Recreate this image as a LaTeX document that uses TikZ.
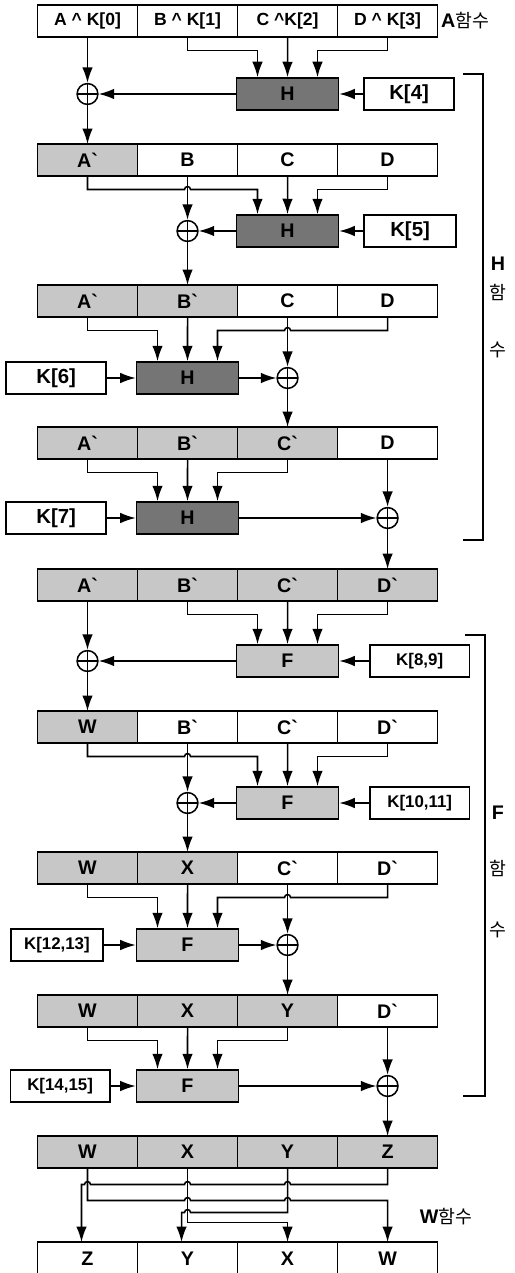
\documentclass[tikz,border=0pt]{standalone}
\usepackage{fontspec}
\setmainfont{Liberation Sans}
\newfontfamily\kr{Noto Sans CJK KR}
\usetikzlibrary{positioning, calc, arrows.meta}
\definecolor{lightshade}{gray}{0.78}
\definecolor{darkshade}{gray}{0.46}

\begin{document}
\begin{tikzpicture}[
    x=0.025cm, y=0.025cm,
    line width=1.1pt,
    font=\bfseries\fontsize{14}{16}\selectfont,
    cell/.style={
        draw,
        rectangle,
        minimum width=2.5cm,
        minimum height=0.8cm,
        inner sep=0pt,
        outer sep=0pt,
        fill=white
    },
    topcell/.style={
        cell,
        font=\bfseries\fontsize{12.5}{14}\selectfont
    },
    done/.style={
        cell,
        fill=lightshade
    },
    hfunc/.style={
        draw,
        rectangle,
        minimum width=2.55cm,
        minimum height=0.8cm,
        inner sep=0pt,
        fill=darkshade
    },
    ffunc/.style={
        hfunc,
        fill=lightshade
    },
    keybox/.style={
        draw,
        rectangle,
        minimum height=0.8cm,
        inner sep=0pt,
        fill=white,
        font=\bfseries\fontsize{14.5}{16}\selectfont
    },
    smallkey/.style={
        keybox,
        font=\bfseries\fontsize{12}{14}\selectfont
    },
    xorop/.style={
        draw,
        circle,
        minimum size=0.52cm,
        inner sep=0pt,
        fill=white,
        path picture={\draw (path picture bounding box.north) -- (path picture bounding box.south)
                            (path picture bounding box.west) -- (path picture bounding box.east);}
    },
    line/.style={
        draw,
        -{Latex[length=11pt, width=7.5pt]}
    },
    wire/.style={
        draw
    },
    sidelabel/.style={
        inner sep=1pt
    },
    hangul/.style={
        inner sep=1pt,
        font=\kr\mdseries\fontsize{13}{15}\selectfont
    }
]
\useasboundingbox (0,0) rectangle (514,-1273);
\clip (0,0) rectangle (514,-1273);

% --- Registers ---
\node[topcell] (r0a) at (87.5,-21) {A \textasciicircum{} K[0]};
\node[topcell, right=0pt of r0a] (r0b) {B \textasciicircum{} K[1]};
\node[topcell, right=0pt of r0b] (r0c) {C \textasciicircum K[2]};
\node[topcell, right=0pt of r0c] (r0d) {D \textasciicircum{} K[3]};
\node[sidelabel, right=1pt of r0d] (alabel) {A{\kr\mdseries\fontsize{13}{15}\selectfont 함수}};

\node[done] (r1a) at (87.5,-160) {A\textasciigrave};
\node[cell, right=0pt of r1a] (r1b) {B};
\node[cell, right=0pt of r1b] (r1c) {C};
\node[cell, right=0pt of r1c] (r1d) {D};

\node[done] (r2a) at (87.5,-301) {A\textasciigrave};
\node[done, right=0pt of r2a] (r2b) {B\textasciigrave};
\node[cell, right=0pt of r2b] (r2c) {C};
\node[cell, right=0pt of r2c] (r2d) {D};

\node[done] (r3a) at (87.5,-443) {A\textasciigrave};
\node[done, right=0pt of r3a] (r3b) {B\textasciigrave};
\node[done, right=0pt of r3b] (r3c) {C\textasciigrave};
\node[cell, right=0pt of r3c] (r3d) {D};

\node[done] (r4a) at (87.5,-585) {A\textasciigrave};
\node[done, right=0pt of r4a] (r4b) {B\textasciigrave};
\node[done, right=0pt of r4b] (r4c) {C\textasciigrave};
\node[done, right=0pt of r4c] (r4d) {D\textasciigrave};

\node[done] (r5a) at (87.5,-727) {W};
\node[cell, right=0pt of r5a] (r5b) {B\textasciigrave};
\node[cell, right=0pt of r5b] (r5c) {C\textasciigrave};
\node[cell, right=0pt of r5c] (r5d) {D\textasciigrave};

\node[done] (r6a) at (87.5,-868) {W};
\node[done, right=0pt of r6a] (r6b) {X};
\node[cell, right=0pt of r6b] (r6c) {C\textasciigrave};
\node[cell, right=0pt of r6c] (r6d) {D\textasciigrave};

\node[done] (r7a) at (87.5,-1011) {W};
\node[done, right=0pt of r7a] (r7b) {X};
\node[done, right=0pt of r7b] (r7c) {Y};
\node[cell, right=0pt of r7c] (r7d) {D\textasciigrave};

\node[done] (r8a) at (87.5,-1152) {W};
\node[done, right=0pt of r8a] (r8b) {X};
\node[done, right=0pt of r8b] (r8c) {Y};
\node[done, right=0pt of r8c] (r8d) {Z};

\node[cell, minimum height=0.85cm] (r9a) at (87.5,-1259) {Z};
\node[cell, minimum height=0.85cm, right=0pt of r9a] (r9b) {Y};
\node[cell, minimum height=0.85cm, right=0pt of r9b] (r9c) {X};
\node[cell, minimum height=0.85cm, right=0pt of r9c] (r9d) {W};

% --- H rounds ---
\node[hfunc] (h1) at (287.5,-94) {H};
\node[keybox, minimum width=2.25cm, right=0.6cm of h1] (k4) {K[4]};
\node[xorop] (x1) at (r0a |- h1) {};

\node[hfunc] (h2) at (287.5,-231) {H};
\node[keybox, minimum width=2.3cm, right=0.6cm of h2] (k5) {K[5]};
\node[xorop] (x2) at (r1b |- h2) {};

\node[hfunc] (h3) at (187.5,-378) {H};
\node[keybox, minimum width=2.5cm, left=0.72cm of h3] (k6) {K[6]};
\node[xorop] (x3) at (r2c |- h3) {};

\node[hfunc] (h4) at (187.5,-518) {H};
\node[keybox, minimum width=2.5cm, left=0.72cm of h4] (k7) {K[7]};
\node[xorop] (x4) at (r3d |- h4) {};

% --- F rounds ---
\node[ffunc] (f1) at (287.5,-661) {F};
\node[smallkey, minimum width=2.48cm, right=0.75cm of f1] (k89) {K[8,9]};
\node[xorop] (x5) at (r4a |- f1) {};

\node[ffunc] (f2) at (287.5,-803) {F};
\node[smallkey, minimum width=2.48cm, right=0.75cm of f2] (k1011) {K[10,11]};
\node[xorop] (x6) at (r5b |- f2) {};

\node[ffunc] (f3) at (187.5,-945) {F};
\node[smallkey, minimum width=2.3cm, left=0.8cm of f3] (k1213) {K[12,13]};
\node[xorop] (x7) at (r6c |- f3) {};

\node[ffunc] (f4) at (187.5,-1086) {F};
\node[smallkey, minimum width=2.48cm, left=0.63cm of f4] (k1415) {K[14,15]};
\node[xorop] (x8) at (r7d |- f4) {};

% routing levels under each register
\coordinate (lv1) at ($(r0a.south)+(0,-13.5)$);
\coordinate (lv2) at ($(r1a.south)+(0,-13.5)$);
\coordinate (lv3) at ($(r2a.south)+(0,-13.5)$);
\coordinate (lv4) at ($(r3a.south)+(0,-13.5)$);
\coordinate (lv5) at ($(r4a.south)+(0,-13.5)$);
\coordinate (lv6) at ($(r5a.south)+(0,-13.5)$);
\coordinate (lv7) at ($(r6a.south)+(0,-13.5)$);
\coordinate (lv8) at ($(r7a.south)+(0,-13.5)$);

% --- Connections: H rounds ---
\draw[line] (r0b.south) -- (r0b.south |- lv1) -| ($(h1.north)+(-30,0)$);
\draw[line] (r0c.south) -- (h1.north);
\draw[line] (r0d.south) -- (r0d.south |- lv1) -| ($(h1.north)+(30,0)$);
\draw[line] (r0a.south) -- (x1);
\draw[line] (x1) -- (r1a.north);
\draw[line] (h1) -- (x1);
\draw[line] (k4) -- (h1);

\draw[line] (r1a.south) -- (r1a.south |- lv2) -- ($(r1b.south |- lv2)+(-3,0)$) arc[start angle=180, end angle=0, radius=3] -| ($(h2.north)+(-30,0)$);
\draw[line] (r1c.south) -- (h2.north);
\draw[line] (r1d.south) -- (r1d.south |- lv2) -| ($(h2.north)+(30,0)$);
\draw[line] (r1b.south) -- (x2);
\draw[line] (x2) -- (r2b.north);
\draw[line] (h2) -- (x2);
\draw[line] (k5) -- (h2);

\draw[line] (r2a.south) -- (r2a.south |- lv3) -| ($(h3.north)+(-30,0)$);
\draw[line] (r2b.south) -- (h3.north);
\draw[line] (r2d.south) -- (r2d.south |- lv3) -- ($(r2c.south |- lv3)+(3,0)$) arc[start angle=0, end angle=180, radius=3] -| ($(h3.north)+(30,0)$);
\draw[line] (r2c.south) -- (x3);
\draw[line] (x3) -- (r3c.north);
\draw[line] (k6) -- (h3);
\draw[line] (h3) -- (x3);

\draw[line] (r3a.south) -- (r3a.south |- lv4) -| ($(h4.north)+(-30,0)$);
\draw[line] (r3b.south) -- (h4.north);
\draw[line] (r3c.south) -- (r3c.south |- lv4) -| ($(h4.north)+(30,0)$);
\draw[line] (r3d.south) -- (x4);
\draw[line] (x4) -- (r4d.north);
\draw[line] (k7) -- (h4);
\draw[line] (h4) -- (x4);

% --- Connections: F rounds ---
\draw[line] (r4b.south) -- (r4b.south |- lv5) -| ($(f1.north)+(-30,0)$);
\draw[line] (r4c.south) -- (f1.north);
\draw[line] (r4d.south) -- (r4d.south |- lv5) -| ($(f1.north)+(30,0)$);
\draw[line] (r4a.south) -- (x5);
\draw[line] (x5) -- (r5a.north);
\draw[line] (f1) -- (x5);
\draw[line] (k89) -- (f1);

\draw[line] (r5a.south) -- (r5a.south |- lv6) -- ($(r5b.south |- lv6)+(-3,0)$) arc[start angle=180, end angle=0, radius=3] -| ($(f2.north)+(-30,0)$);
\draw[line] (r5c.south) -- (f2.north);
\draw[line] (r5d.south) -- (r5d.south |- lv6) -| ($(f2.north)+(30,0)$);
\draw[line] (r5b.south) -- (x6);
\draw[line] (x6) -- (r6b.north);
\draw[line] (f2) -- (x6);
\draw[line] (k1011) -- (f2);

\draw[line] (r6a.south) -- (r6a.south |- lv7) -| ($(f3.north)+(-30,0)$);
\draw[line] (r6b.south) -- (f3.north);
\draw[line] (r6d.south) -- (r6d.south |- lv7) -- ($(r6c.south |- lv7)+(3,0)$) arc[start angle=0, end angle=180, radius=3] -| ($(f3.north)+(30,0)$);
\draw[line] (r6c.south) -- (x7);
\draw[line] (x7) -- (r7c.north);
\draw[line] (k1213) -- (f3);
\draw[line] (f3) -- (x7);

\draw[line] (r7a.south) -- (r7a.south |- lv8) -| ($(f4.north)+(-30,0)$);
\draw[line] (r7b.south) -- (f4.north);
\draw[line] (r7c.south) -- (r7c.south |- lv8) -| ($(f4.north)+(30,0)$);
\draw[line] (r7d.south) -- (x8);
\draw[line] (x8) -- (r8d.north);
\draw[line] (k1415) -- (f4);
\draw[line] (f4) -- (x8);

% --- W function (word swap) ---
\coordinate (lz) at ($(r8a.south)+(0,-16.5)$);
\coordinate (lw) at ($(r8a.south)+(0,-32.5)$);
\coordinate (ly) at ($(r8a.south)+(0,-44.5)$);
\coordinate (lx) at ($(r8a.south)+(0,-54.5)$);

\draw[line] (r8d.south) -- (r8d.south |- lz)
    -- ($(r8c.south |- lz)+(3,0)$) arc[start angle=0, end angle=180, radius=3]
    -- ($(r8b.south |- lz)+(3,0)$) arc[start angle=0, end angle=180, radius=3]
    -- ($(r8a.south |- lz)+(3,0)$) arc[start angle=0, end angle=180, radius=3]
    -- ($(r8a.south |- lz)+(-6,0)$) -- ($(r9a.north)+(-6,0)$);
\draw[line] (r8a.south) -- (r8a.south |- lw)
    -- ($(r8b.south |- lw)+(-3,0)$) arc[start angle=180, end angle=0, radius=3]
    -- ($(r8c.south |- lw)+(-3,0)$) arc[start angle=180, end angle=0, radius=3]
    -| (r9d.north);
\draw[line] (r8c.south) -- (r8c.south |- ly)
    -- ($(r8b.south |- ly)+(3,0)$) arc[start angle=0, end angle=180, radius=3]
    -- ($(r8b.south |- ly)+(-6,0)$) -- ($(r9b.north)+(-6,0)$);
\draw[line] (r8b.south) -- (r8b.south |- lx) -| (r9c.north);

\node[sidelabel] (wlabel) at (446,-1217) {W{\kr\mdseries\fontsize{13}{15}\selectfont 함수}};

% --- Round brackets ---
\coordinate (hb1) at (463,-74);
\coordinate (hb2) at (463,-540);
\draw[wire] (hb1) -- ++(20,0) |- (hb2);
\node[sidelabel] (hname) at (498,-264) {H};
\node[hangul] (hha) at (498,-292) {함};
\node[hangul] (hsu) at (498,-350) {수};

\coordinate (fb1) at (465,-635);
\coordinate (fb2) at (463,-1096);
\draw[wire] (fb1) -- ++(20,0) |- (fb2);
\node[sidelabel] (fname) at (498,-813) {F};
\node[hangul] (fha) at (498,-868) {함};
\node[hangul] (fsu) at (498,-930) {수};

\end{tikzpicture}
\end{document}
